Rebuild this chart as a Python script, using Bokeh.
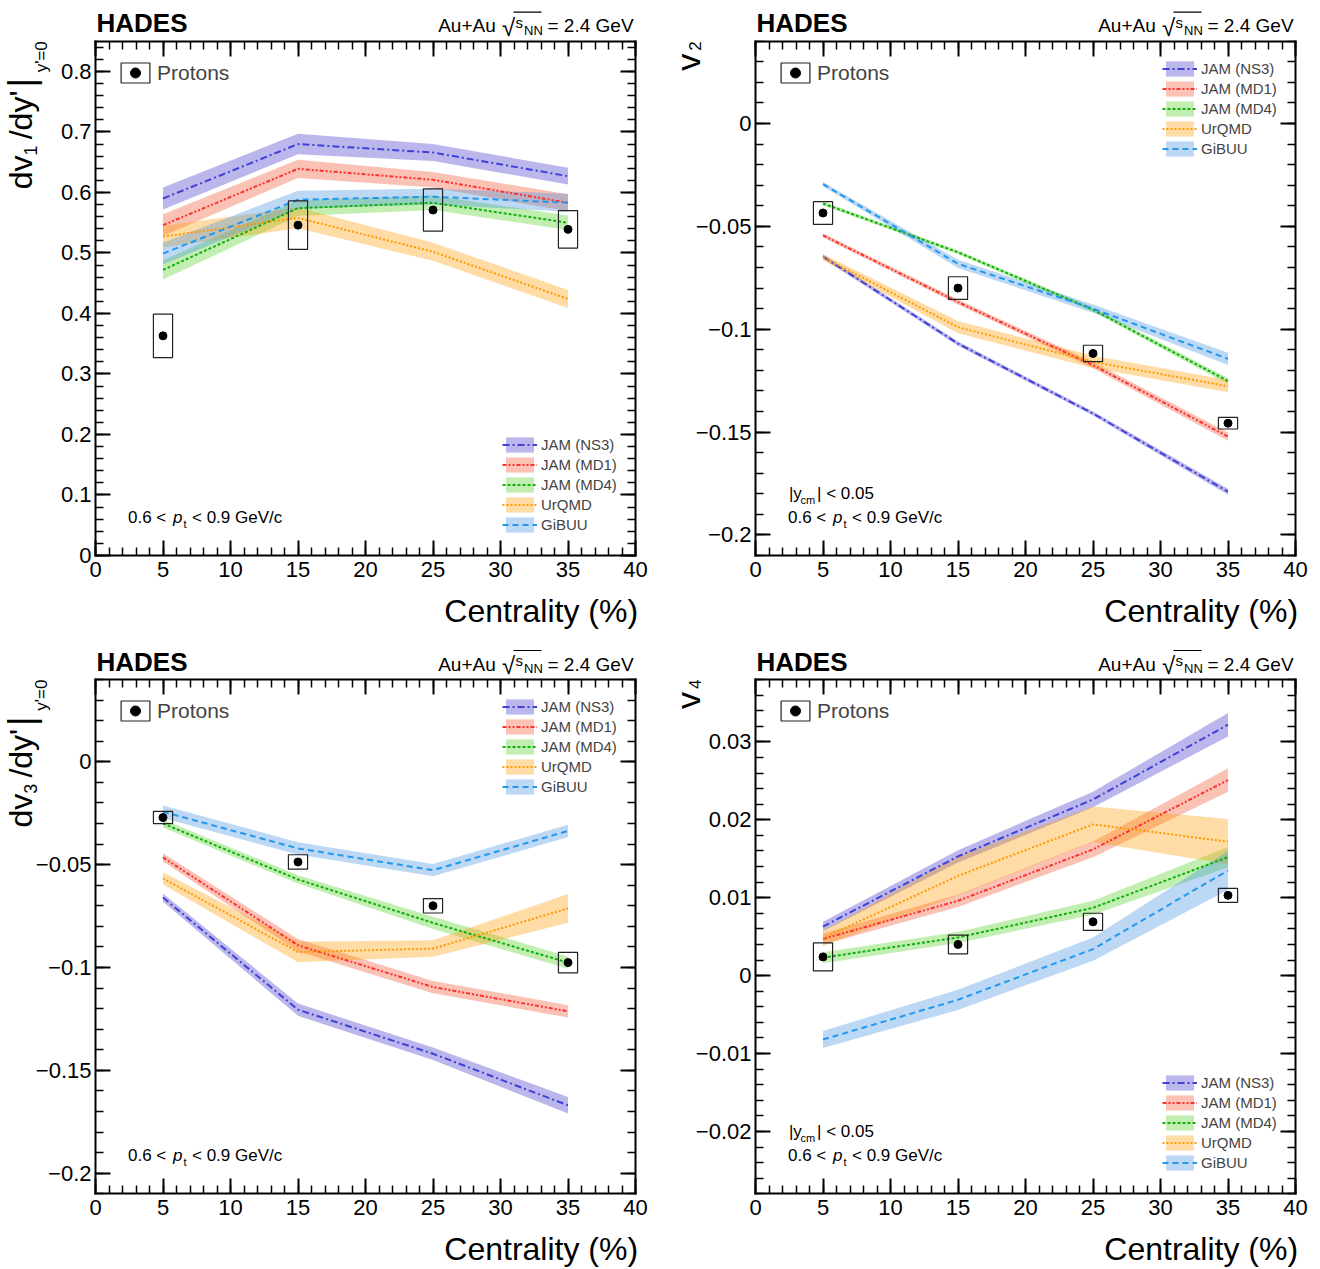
from math import pi
from bokeh.plotting import figure
from bokeh.models import (Range1d, LinearAxis, FixedTicker, Label, Legend, LegendItem, Arrow)
from bokeh.layouts import column, row
from bokeh.embed import file_html
from bokeh.resources import INLINE

# ---------------- data ----------------
centrality = [5, 15, 25, 35]
model_names = ["JAM (NS3)", "JAM (MD1)", "JAM (MD4)", "UrQMD", "GiBUU"]

x_ticks = [0, 5, 10, 15, 20, 25, 30, 35, 40]
x_tick_labels = ["0", "5", "10", "15", "20", "25", "30", "35", "40"]
x_minor = list(range(0, 41))

# dv1/dy'
dv1_protons = [0.363, 0.546, 0.571, 0.539]
dv1_protons_sys = [0.036, 0.040, 0.035, 0.031]
dv1_ns3 = [0.590, 0.680, 0.666, 0.627]
dv1_ns3_err = [0.018, 0.017, 0.014, 0.014]
dv1_md1 = [0.546, 0.639, 0.621, 0.583]
dv1_md1_err = [0.018, 0.015, 0.013, 0.014]
dv1_md4 = [0.472, 0.574, 0.583, 0.550]
dv1_md4_err = [0.016, 0.013, 0.012, 0.012]
dv1_urqmd = [0.527, 0.558, 0.502, 0.424]
dv1_urqmd_err = [0.018, 0.017, 0.015, 0.015]
dv1_gibuu = [0.499, 0.588, 0.593, 0.583]
dv1_gibuu_err = [0.018, 0.015, 0.013, 0.015]
dv1_yticks = [0, 0.1, 0.2, 0.3, 0.4, 0.5, 0.6, 0.7, 0.8]
dv1_ytick_labels = ["0", "0.1", "0.2", "0.3", "0.4", "0.5", "0.6", "0.7", "0.8"]

# v2
v2_protons = [-0.0435, -0.0800, -0.1118, -0.1457]
v2_protons_sys = [0.0055, 0.0055, 0.0040, 0.0028]
v2_ns3 = [-0.0647, -0.1070, -0.1410, -0.1790]
v2_ns3_err = [0.0010, 0.0010, 0.0010, 0.0015]
v2_md1 = [-0.0544, -0.0868, -0.1175, -0.1522]
v2_md1_err = [0.0010, 0.0012, 0.0015, 0.0020]
v2_md4 = [-0.0389, -0.0626, -0.0905, -0.1252]
v2_md4_err = [0.0010, 0.0010, 0.0010, 0.0015]
v2_urqmd = [-0.0650, -0.0990, -0.1159, -0.1277]
v2_urqmd_err = [0.0015, 0.0030, 0.0030, 0.0030]
v2_gibuu = [-0.0295, -0.0682, -0.0900, -0.1144]
v2_gibuu_err = [0.0010, 0.0020, 0.0020, 0.0030]
v2_yticks = [-0.2, -0.15, -0.1, -0.05, 0]
v2_ytick_labels = ["\u22120.2", "\u22120.15", "\u22120.1", "\u22120.05", "0"]

# dv3/dy'
dv3_protons = [-0.0271, -0.0487, -0.0700, -0.0976]
dv3_protons_sys = [0.0030, 0.0035, 0.0035, 0.0050]
dv3_ns3 = [-0.0660, -0.1205, -0.1419, -0.1670]
dv3_ns3_err = [0.0020, 0.0030, 0.0030, 0.0040]
dv3_md1 = [-0.0465, -0.0892, -0.1095, -0.1213]
dv3_md1_err = [0.0020, 0.0030, 0.0030, 0.0030]
dv3_md4 = [-0.0300, -0.0572, -0.0783, -0.0976]
dv3_md4_err = [0.0020, 0.0020, 0.0030, 0.0030]
dv3_urqmd = [-0.0567, -0.0925, -0.0908, -0.0713]
dv3_urqmd_err = [0.0030, 0.0050, 0.0040, 0.0070]
dv3_gibuu = [-0.0243, -0.0421, -0.0527, -0.0336]
dv3_gibuu_err = [0.0030, 0.0030, 0.0030, 0.0030]
dv3_yticks = [-0.2, -0.15, -0.1, -0.05, 0]
dv3_ytick_labels = ["\u22120.2", "\u22120.15", "\u22120.1", "\u22120.05", "0"]

# v4
v4_protons = [0.0024, 0.0040, 0.0069, 0.0103]
v4_protons_sys = [0.0018, 0.0012, 0.0011, 0.0009]
v4_ns3 = [0.0063, 0.0153, 0.0226, 0.0322]
v4_ns3_err = [0.0006, 0.0008, 0.0010, 0.0015]
v4_md1 = [0.0047, 0.0096, 0.0162, 0.0251]
v4_md1_err = [0.0007, 0.0008, 0.0010, 0.0015]
v4_md4 = [0.0023, 0.0049, 0.0087, 0.0152]
v4_md4_err = [0.0007, 0.0007, 0.0009, 0.0013]
v4_urqmd = [0.0048, 0.0128, 0.0194, 0.0172]
v4_urqmd_err = [0.0010, 0.0025, 0.0023, 0.0029]
v4_gibuu = [-0.0082, -0.0031, 0.0034, 0.0135]
v4_gibuu_err = [0.0011, 0.0013, 0.0015, 0.0025]
v4_yticks = [-0.02, -0.01, 0, 0.01, 0.02, 0.03]
v4_ytick_labels = ["\u22120.02", "\u22120.01", "0", "0.01", "0.02", "0.03"]

# ---------------- style ----------------
FONT = "Liberation Sans"
band_colors = ["#3c32c8", "#f0502a", "#50d020", "#ff9a00", "#3f8fe0"]
line_colors = ["#4040d8", "#ff3030", "#10b010", "#ff9900", "#2299ee"]
line_dashes = ["7 3 2 3", "4 2 2 2 2 2", "3 2", "2 2", "6 4"]
CANVAS_W = 660
FRAME_L, FRAME_W, FRAME_H = 95, 540, 514.3
X_LO, X_HI = 0, 40
K_BASE = 0.36   # baseline correction of Label text (fraction of font size)


def key(v):
    return str(int(v)) if float(v) == int(v) else repr(float(v))


def style_axis(ax, show_labels, standoff):
    ax.axis_line_width = 2
    ax.axis_line_cap = "square"
    ax.major_tick_in = 15
    ax.major_tick_out = 0
    ax.minor_tick_in = 8
    ax.minor_tick_out = 0
    ax.major_tick_line_width = 2
    ax.minor_tick_line_width = 1.5
    ax.major_label_text_font = FONT
    ax.major_label_standoff = standoff
    if show_labels:
        ax.major_label_text_font_size = "22px"
        ax.major_label_text_color = "black"
    else:
        ax.major_label_text_font_size = "1px"
        ax.major_label_text_alpha = 0


def make_panel(ylo, yhi, yticks, ytick_labels, yminor, data, sys, models, errs,
               ylabel, canvas_h, frame_top, legend_from_bottom, ycm_text):
    xppu = FRAME_W / (X_HI - X_LO)
    yppu = FRAME_H / (yhi - ylo)
    gap_bottom = canvas_h - frame_top - FRAME_H
    p = figure(width=CANVAS_W, height=canvas_h,
               x_range=Range1d(X_LO - FRAME_L / xppu, X_HI + (CANVAS_W - FRAME_L - FRAME_W) / xppu),
               y_range=Range1d(ylo - gap_bottom / yppu, yhi + frame_top / yppu),
               output_backend="svg", toolbar_location=None, tools="",
               x_axis_type=None, y_axis_type=None,
               min_border_left=0, min_border_right=0, min_border_top=0, min_border_bottom=0,
               background_fill_color="white", border_fill_color="white")
    p.outline_line_color = None

    xt = FixedTicker(ticks=x_ticks, minor_ticks=x_minor)
    yt = FixedTicker(ticks=yticks, minor_ticks=yminor)
    xover = {key(v): l for v, l in zip(x_ticks, x_tick_labels)}
    yover = {key(v): l for v, l in zip(yticks, ytick_labels)}
    for side, loc in [("below", ylo), ("above", yhi)]:
        ax = LinearAxis(ticker=xt, major_label_overrides=xover, fixed_location=loc, bounds=(X_LO, X_HI))
        style_axis(ax, side == "below", 6)
        p.add_layout(ax, side)
    for side, loc in [("left", X_LO), ("right", X_HI)]:
        ax = LinearAxis(ticker=yt, major_label_overrides=yover, fixed_location=loc, bounds=(ylo, yhi))
        style_axis(ax, side == "left", 4)
        p.add_layout(ax, side)

    def label(text, dx, dy, size, top=True, align="left", angle=0, style="normal"):
        corr = K_BASE * size
        if angle == 0:
            xo = dx
            yo = (-dy if top else dy) + corr
        else:
            xo = dx - corr
            yo = (-dy if top else dy)
        p.add_layout(Label(x=X_LO, y=(yhi if top else ylo), x_offset=xo, y_offset=yo,
                           text=text, text_font=FONT, text_font_size=f"{size}px", text_align=align,
                           text_baseline="alphabetic", angle=angle, text_font_style=style,
                           text_color="black"))

    # model bands
    items = []
    band_r = []
    for i, (m, e) in enumerate(zip(models, errs)):
        lo = [c - d for c, d in zip(m, e)]
        hi = [c + d for c, d in zip(m, e)]
        band_r.append(p.varea(x=centrality, y1=lo, y2=hi, fill_color=band_colors[i], fill_alpha=0.35))
    for i, m in enumerate(models):
        lr = p.line(centrality, m, line_color=line_colors[i], line_width=2, line_dash=line_dashes[i])
        items.append(LegendItem(label=model_names[i], renderers=[band_r[i], lr]))

    # data
    rr = p.rect(x=centrality, y=data, width=1.42, height=[2 * s for s in sys],
                fill_color=None, line_color="#222222", line_width=1.2)
    dr = p.scatter(x=centrality, y=data, size=8, color="black")

    leg = Legend(items=items, location=(FRAME_L + 407, gap_bottom + legend_from_bottom),
                 glyph_width=35, glyph_height=19, label_height=19, spacing=1, padding=0, margin=0,
                 label_standoff=4, border_line_color=None, background_fill_alpha=0,
                 label_text_font=FONT, label_text_font_size="15px")
    p.add_layout(leg)
    leg2 = Legend(items=[LegendItem(label="Protons", renderers=[rr, dr])],
                  location=(FRAME_L + 22, gap_bottom + 470),
                  glyph_width=36, glyph_height=25, label_height=25, padding=0, margin=0,
                  label_standoff=4, border_line_color=None, background_fill_alpha=0,
                  label_text_font=FONT, label_text_font_size="21px")
    p.add_layout(leg2)

    # header
    label("HADES", 1, -8.4, 26, style="bold")
    label("Au+Au", 342.7, -8.4, 19)
    label("\u221a", 406.5, -5.5, 24)
    label("s", 420, -13.4, 15)
    label("NN", 428.5, -6.4, 13)
    label("= 2.4 GeV", 452, -8.4, 19)
    p.add_layout(Arrow(end=None, x_start=X_LO + 418 / xppu, x_end=X_LO + 446 / xppu,
                       y_start=yhi + 29 / yppu, y_end=yhi + 29 / yppu,
                       line_width=1.2, line_color="black"))

    # x axis title
    label("Centrality (%)", 542.6, -66.7, 32, top=False, align="right")

    # y axis title (rotated)
    if ylabel[0] == "d":
        label("dv", -63.3, 114.3, 32, align="right", angle=pi / 2)
        label(ylabel[1], -59, 104.3, 18, align="right", angle=pi / 2)
        label("/dy'", -63.3, 49.3, 32, align="right", angle=pi / 2)
        label("|", -61, 41.6, 37, align="center", angle=pi / 2)
        label("y'=0", -48, 0, 17, align="right", angle=pi / 2)
    else:
        label("v", -55.3, 12.6, 34, align="right", angle=pi / 2)
        label(ylabel[1], -54.3, 0, 17, align="right", angle=pi / 2)

    # kinematic text
    if ycm_text:
        label("|y", 33.4, 55.7, 17, top=False)
        label("cm", 45, 51.5, 11, top=False)
        label("| < 0.05", 61.5, 55.7, 17, top=False)
    label("0.6 <", 32.5, 31.7, 17, top=False)
    label("p", 77.6, 31.7, 17, top=False, style="italic")
    label("t", 88, 27.5, 11, top=False)
    label("< 0.9 GeV/c", 96.5, 31.7, 17, top=False)
    return p


dv1_minor = [round(0.02 * i, 3) for i in range(0, 43)]
v2_minor = [round(-0.21 + 0.01 * i, 3) for i in range(0, 26)]
v4_minor = [round(-0.028 + 0.002 * i, 4) for i in range(0, 34)]

p1 = make_panel(0, 0.85, dv1_yticks, dv1_ytick_labels, dv1_minor, dv1_protons, dv1_protons_sys,
                [dv1_ns3, dv1_md1, dv1_md4, dv1_urqmd, dv1_gibuu],
                [dv1_ns3_err, dv1_md1_err, dv1_md4_err, dv1_urqmd_err, dv1_gibuu_err],
                "d1", 640, 40.7, 21, False)
p2 = make_panel(-0.21, 0.04, v2_yticks, v2_ytick_labels, v2_minor, v2_protons, v2_protons_sys,
                [v2_ns3, v2_md1, v2_md4, v2_urqmd, v2_gibuu],
                [v2_ns3_err, v2_md1_err, v2_md4_err, v2_urqmd_err, v2_gibuu_err],
                "v2", 640, 40.7, 397, True)
p3 = make_panel(-0.21, 0.04, dv3_yticks, dv3_ytick_labels, v2_minor, dv3_protons, dv3_protons_sys,
                [dv3_ns3, dv3_md1, dv3_md4, dv3_urqmd, dv3_gibuu],
                [dv3_ns3_err, dv3_md1_err, dv3_md4_err, dv3_urqmd_err, dv3_gibuu_err],
                "d3", 629, 39, 397, False)
p4 = make_panel(-0.028, 0.038, v4_yticks, v4_ytick_labels, v4_minor, v4_protons, v4_protons_sys,
                [v4_ns3, v4_md1, v4_md4, v4_urqmd, v4_gibuu],
                [v4_ns3_err, v4_md1_err, v4_md4_err, v4_urqmd_err, v4_gibuu_err],
                "v4", 629, 39, 21, True)

layout = column(row(p1, p2, spacing=0), row(p3, p4, spacing=0), spacing=0)
open("out.html", "w").write(file_html(layout, INLINE))
